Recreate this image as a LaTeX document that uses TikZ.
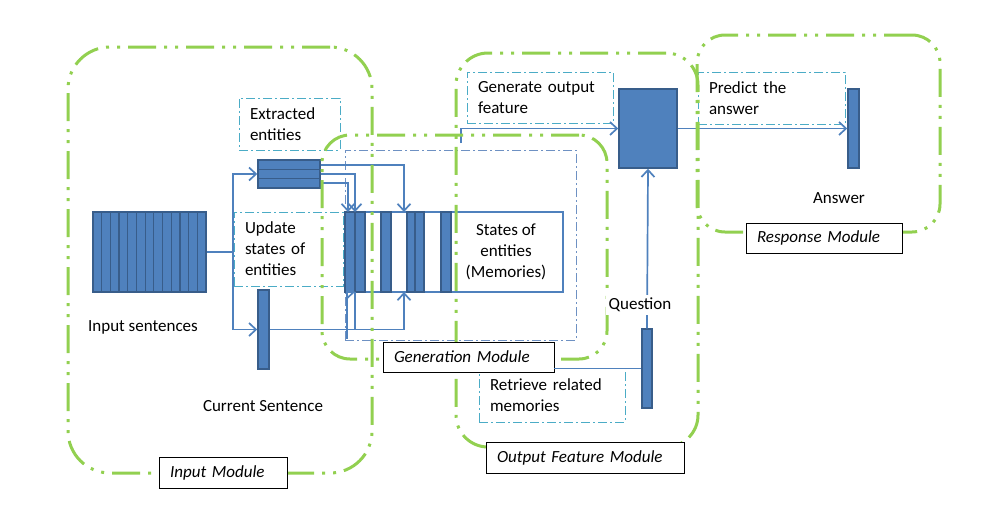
\documentclass[tikz,border=0pt]{standalone}
\usepackage{fontspec}
\setmainfont{Carlito}
\usetikzlibrary{arrows.meta}
\definecolor{ggreen}{RGB}{146,208,80}
\definecolor{tteal}{RGB}{75,172,198}
\definecolor{bfill}{RGB}{79,129,189}
\definecolor{bdark}{RGB}{56,93,138}
\definecolor{binner}{RGB}{110,145,195}
\newcommand\tf{\fontsize{17}{21}\selectfont}
\tikzset{
  gbox/.style={draw=ggreen, line width=3pt, dash pattern=on 28pt off 8pt on 3pt off 8pt on 3pt off 8pt, inner sep=0pt},
  tbox/.style={draw=tteal, line width=1pt, dash pattern=on 9pt off 3pt on 2pt off 3pt, inner xsep=11pt, inner ysep=0pt, align=left, font=\tf},
  lbox/.style={draw=black, line width=0.8pt, fill=white, inner xsep=11pt, inner ysep=0pt, align=left, font=\tf\itshape},
  blk/.style={draw=bdark, fill=bfill, line width=1.5pt, inner sep=0pt},
  sline/.style={draw=bdark, line width=1.2pt},
  ln/.style={draw=bfill, line width=1.7pt},
  arr/.style={draw=bfill, line width=1.7pt, -{Straight Barb[length=7pt,width=13pt]}},
  lbl/.style={font=\tf, inner sep=1pt, align=center},
}
\begin{document}
\begin{tikzpicture}[x=1pt,y=-1pt]
\useasboundingbox (0,0) rectangle (987,509);

% dash-dot annotation boxes
\node[tbox, text width=79pt, minimum height=52pt] (extbox) at (289.5,124) {Extracted\\entities};
\node[tbox, text width=87pt, minimum height=74pt] (updbox) at (288.5,249) {Update\\states of\\entities};
\node[tbox, text width=124pt, minimum height=51pt] (genbox) at (540,97.5) {Generate output\\feature};
\node[tbox, text width=125pt, minimum height=52pt] (prebox) at (771.5,98) {Predict the\\answer};
\node[tbox, text width=124pt, minimum height=54pt] (retbox) at (552,395) {Retrieve related\\memories};
\node[draw=binner, line width=1pt, dash pattern=on 9pt off 3pt on 2pt off 3pt, minimum width=231pt, minimum height=190pt, inner sep=0pt] (inner) at (460.5,245) {};

% blocks
\node[blk, minimum width=113pt, minimum height=80pt] (is) at (149.5,252) {};
\foreach \i in {1,...,12} \draw[sline] ({93+\i*113/13},212) -- ({93+\i*113/13},292);
\node[blk, minimum width=62pt, minimum height=28pt] (eb) at (289,174) {};
\draw[sline] (258,169.3) -- (320,169.3);
\draw[sline] (258,178.7) -- (320,178.7);
\node[blk, minimum width=11pt, minimum height=79pt] (cs) at (263.5,329.5) {};
\node[blk, minimum width=58pt, minimum height=79pt] (ob) at (648,128.5) {};
\node[blk, minimum width=10pt, minimum height=79pt] (qb) at (647,368.5) {};
\node[blk, minimum width=11pt, minimum height=79pt] (ans) at (853.5,128.5) {};

% memories
\node[draw=bfill, fill=white, line width=1.5pt, minimum width=218pt, minimum height=80pt, inner sep=0pt] (mem) at (454,252) {};
\foreach \a/\b in {345/355,355/365,381/391,407/415,415/424,441/451}
  \draw[blk] (\a,212) rectangle (\b,292);
\node[lbl] (memtxt) at (506,252) {States of\\entities\\(Memories)};

% connector end points
\coordinate (mt1) at (348,212);
\coordinate (mt2) at (355,212);
\coordinate (mt3) at (404,212);
\coordinate (mb1) at (355,292);
\coordinate (mb3) at (404,292);
\coordinate (u1) at (347,339);
\coordinate (stub) at (461,143);

% connectors
\draw[arr] (is.east) -- ++(26,0) |- (eb.west);
\draw[arr] (is.east) -- ++(26,0) |- (cs.west);
\draw[arr] ([yshift=9pt]eb.east) -| (mt3);
\draw[arr] (eb.east) -| (mt2);
\draw[arr] ([yshift=-9pt]eb.east) -| (mt1);
\draw[arr] (cs.east) -| (mb3);
\draw[ln] (cs.east -| mb1) -- (mb1);
\draw[arr] (u1) |- (mb1);
\draw[arr] (stub) |- (ob.west);
\draw[arr] (ob.east) -- (ans.west);
\draw[arr] (qb.north) -- (ob.south);

% modules
\node[gbox, rounded corners=42pt, minimum width=304pt, minimum height=426pt] (inmod) at (220,260) {};
\node[gbox, rounded corners=28pt, minimum width=285pt, minimum height=224pt] (genmod) at (464.5,247) {};
\node[gbox, rounded corners=32pt, minimum width=242pt, minimum height=394pt] (outmod) at (577,250) {};
\node[gbox, rounded corners=28pt, minimum width=243pt, minimum height=197pt] (resmod) at (818.5,133.5) {};

% module labels
\node[lbox, text width=106pt, minimum height=31pt] (inlab) at (223,472.5) {Input Module};
\node[lbox, text width=149pt, minimum height=30pt] (genlab) at (468.5,357) {Generation Module};
\node[lbox, text width=176pt, minimum height=31pt] (outlab) at (585,457.5) {Output Feature Module};
\node[lbox, text width=134pt, minimum height=30pt] (reslab) at (824,238) {Response Module};

\draw[ln] (qb.west) -- (genlab.east |- qb.west);

% text labels
\node[lbl] (istxt) at (143,327) {Input sentences};
\node[lbl] (cstxt) at (263,406) {Current Sentence};
\node[lbl] (anstxt) at (839,198) {Answer};
\node[lbl, fill=white, inner sep=3pt] (qtxt) at (640,305) {Question};
\end{tikzpicture}
\end{document}
